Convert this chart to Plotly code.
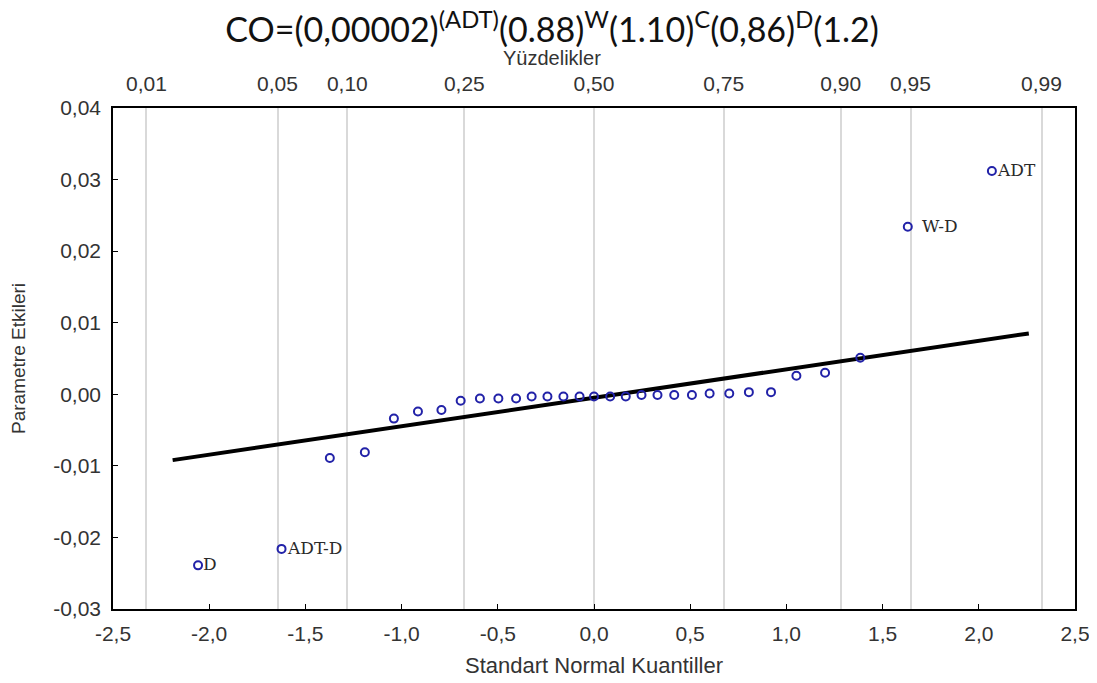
import plotly.graph_objects as go

# Normal quantiles (x) and parameter effects (y)
quantiles = [-2.058, -1.624, -1.373, -1.191, -1.040, -0.915, -0.793, -0.693, -0.593, -0.497,
             -0.405, -0.324, -0.242, -0.159, -0.075, 0.000, 0.084, 0.165, 0.247, 0.330,
             0.417, 0.509, 0.601, 0.703, 0.805, 0.920, 1.052, 1.201, 1.384, 1.631, 2.068]
effects = [-0.0239, -0.0216, -0.0089, -0.0081, -0.0034, -0.0024, -0.0022, -0.0009, -0.0006, -0.0006,
           -0.0006, -0.0003, -0.0003, -0.0003, -0.0003, -0.0003, -0.0003, -0.0003, -0.0001, -0.0001,
           -0.0001, -0.0001, 0.0001, 0.0001, 0.0003, 0.0003, 0.0026, 0.0030, 0.0051, 0.0234, 0.0312]
point_labels = ["D", "ADT-D", "", "", "", "", "", "", "", "", "", "", "", "", "", "", "", "", "", "",
                "", "", "", "", "", "", "", "", "", "W-D", "ADT"]
label_gap = [3, 3, 0, 0, 0, 0, 0, 0, 0, 0, 0, 0, 0, 0, 0, 0, 0, 0, 0, 0,
             0, 0, 0, 0, 0, 0, 0, 0, 0, 12, 3]

fit_x = [-2.19, 2.26]
fit_y = [-0.0092, 0.0085]

x_ticks = [-2.5, -2.0, -1.5, -1.0, -0.5, 0.0, 0.5, 1.0, 1.5, 2.0, 2.5]
x_ticktext = ["-2,5", "-2,0", "-1,5", "-1,0", "-0,5", "0,0", "0,5", "1,0", "1,5", "2,0", "2,5"]
y_ticks = [-0.03, -0.02, -0.01, 0.0, 0.01, 0.02, 0.03, 0.04]
y_ticktext = ["-0,03", "-0,02", "-0,01", "0,00", "0,01", "0,02", "0,03", "0,04"]
pct_positions = [-2.326, -1.645, -1.282, -0.674, 0.0, 0.674, 1.282, 1.645, 2.326]
pct_labels = ["0,01", "0,05", "0,10", "0,25", "0,50", "0,75", "0,90", "0,95", "0,99"]

title_text = "CO=(0,00002)<sup>(ADT)</sup>(0.88)<sup>W</sup>(1.10)<sup>C</sup>(0,86)<sup>D</sup>(1.2)"

fig = go.Figure()

fig.add_trace(go.Scatter(x=fit_x, y=fit_y, mode="lines",
                         line=dict(color="black", width=4), showlegend=False, hoverinfo="skip"))
fig.add_trace(go.Scatter(x=quantiles, y=effects, mode="markers",
                         marker=dict(symbol="circle-open", size=8, color="#2222a8",
                                     line=dict(width=2, color="#2222a8")),
                         showlegend=False))
# dummy trace for top axis
fig.add_trace(go.Scatter(x=[quantiles[0]], y=[effects[0]], xaxis="x2", mode="markers",
                         marker=dict(opacity=0), showlegend=False, hoverinfo="skip"))

for xv, yv, lab, gap in zip(quantiles, effects, point_labels, label_gap):
    if lab:
        fig.add_annotation(x=xv, y=yv, text=lab, showarrow=False, xanchor="left", yanchor="middle",
                           xshift=gap, yshift=1,
                           font=dict(family="DejaVu Serif", size=17, color="#2a2a2a"))

fig.add_annotation(x=0.456, y=1, xref="paper", yref="paper", yshift=50, text="Yüzdelikler",
                   showarrow=False, xanchor="center", yanchor="middle",
                   font=dict(family="Liberation Sans", size=20, color="#333333"))

tick_font = dict(family="Liberation Sans", size=21, color="#333333")

fig.update_layout(
    width=1097, height=683,
    margin=dict(l=105, r=30, t=100, b=82),
    paper_bgcolor="white", plot_bgcolor="white",
    title=dict(text=title_text, x=0.496, xanchor="center", y=1 - 22 / 683, yanchor="middle",
               xref="container", yref="container",
               font=dict(family="Lato", size=34, color="#111111")),
    xaxis=dict(range=[-2.5, 2.5], tickvals=x_ticks, ticktext=x_ticktext, showgrid=False,
               zeroline=False, showline=True, linecolor="black", linewidth=1.5,
               ticks="inside", ticklen=5, tickcolor="black", tickfont=tick_font,
               ticklabelstandoff=5, automargin=False,
               title=dict(text="Standart Normal Kuantiller",
                          font=dict(family="Liberation Sans", size=22, color="#333333"),
                          standoff=14)),
    xaxis2=dict(range=[-2.5, 2.5], overlaying="x", side="top", matches="x",
                tickvals=pct_positions, ticktext=pct_labels, showgrid=True,
                gridcolor="#d9d9d9", gridwidth=2, zeroline=False, showline=True,
                linecolor="black", linewidth=1.5, ticks="", tickfont=tick_font,
                ticklabelstandoff=7, automargin=False),
    yaxis=dict(range=[-0.03, 0.04], tickvals=y_ticks, ticktext=y_ticktext, showgrid=False,
               zeroline=False, showline=True, mirror=True, linecolor="black", linewidth=1.5,
               ticks="inside", ticklen=5, tickcolor="black", tickfont=tick_font,
               ticklabelstandoff=6, automargin=False,
               title=dict(text="Parametre Etkileri",
                          font=dict(family="Liberation Sans", size=19, color="#333333"),
                          standoff=30)),
)

fig.write_html("out.html")
